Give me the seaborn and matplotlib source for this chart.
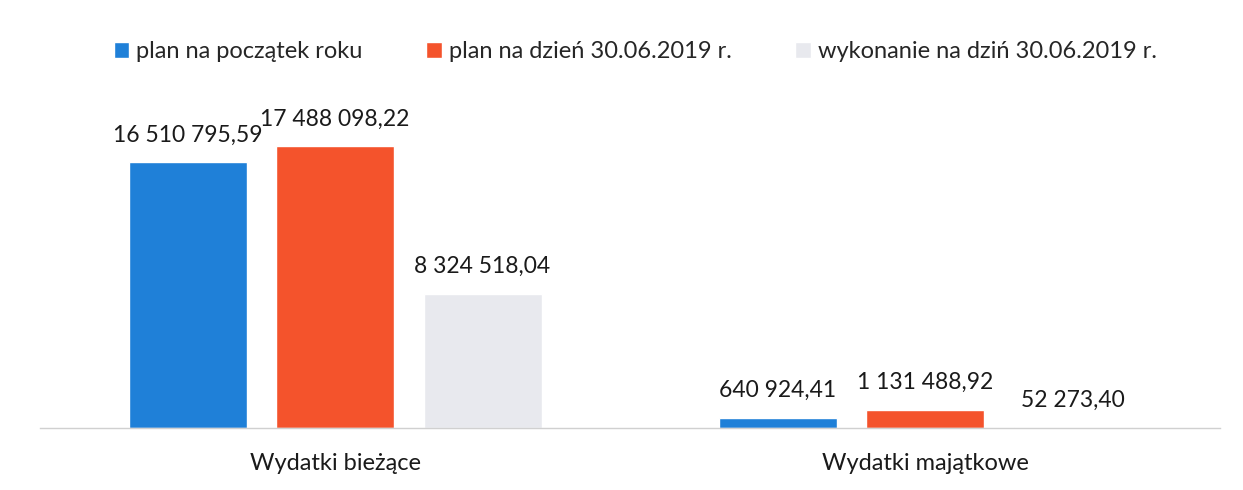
import pandas as pd
import matplotlib
matplotlib.use("Agg")
import matplotlib.pyplot as plt
import seaborn as sns

# Data
categories = ["Wydatki bieżące", "Wydatki majątkowe"]
series = ["plan na początek roku", "plan na dzień 30.06.2019 r.", "wykonanie na dziń 30.06.2019 r."]
plan_start = [16510795.59, 640924.41]
plan_june = [17488098.22, 1131488.92]
done_june = [8324518.04, 52273.40]
colors = ["#1f80d8", "#f4532c", "#e8e9ee"]

rows = []
for name, vals in zip(series, [plan_start, plan_june, done_june]):
    for cat, v in zip(categories, vals):
        rows.append({"kategoria": cat, "seria": name, "kwota": v})
df = pd.DataFrame(rows)


def pl_format(v):
    s = f"{v:,.2f}"
    return s.replace(",", " ").replace(".", ",")


sns.set_theme(style="white")
plt.rcParams["font.family"] = ["Lato", "DejaVu Sans"]

fig = plt.figure(figsize=(12.43, 4.9), dpi=100)
ax = fig.add_axes([40 / 1243, 1 - 428 / 490, 1180 / 1243, 322 / 490])

sns.barplot(data=df, x="kategoria", y="kwota", hue="seria", hue_order=series,
            palette=colors, width=0.75, gap=0.2, saturation=1, ax=ax,
            legend=True, errorbar=None)

for cont in ax.containers:
    ax.bar_label(cont, labels=[pl_format(v) for v in cont.datavalues],
                 padding=12, fontsize=16.5, color="#1a1a1a")

ax.set_ylim(0, 20000000)
ax.set_xlim(-0.5, 1.5)
ax.set_xlabel("")
ax.set_ylabel("")
ax.set_yticks([])
ax.tick_params(axis="x", labelsize=17, length=0, pad=18, colors="#1a1a1a")
for side in ["top", "right", "left"]:
    ax.spines[side].set_visible(False)
ax.spines["bottom"].set_color("#d0d0d0")
ax.spines["bottom"].set_linewidth(1)

handles, labels = ax.get_legend_handles_labels()
ax.legend_.remove()
fig.legend(handles, labels, loc="center", bbox_to_anchor=(0.511, 1 - 52 / 490),
           ncol=3, frameon=False, fontsize=17, handlelength=0.65, handleheight=0.65,
           handletextpad=0.3, columnspacing=2.7)

fig.savefig("out.png", dpi=100)
